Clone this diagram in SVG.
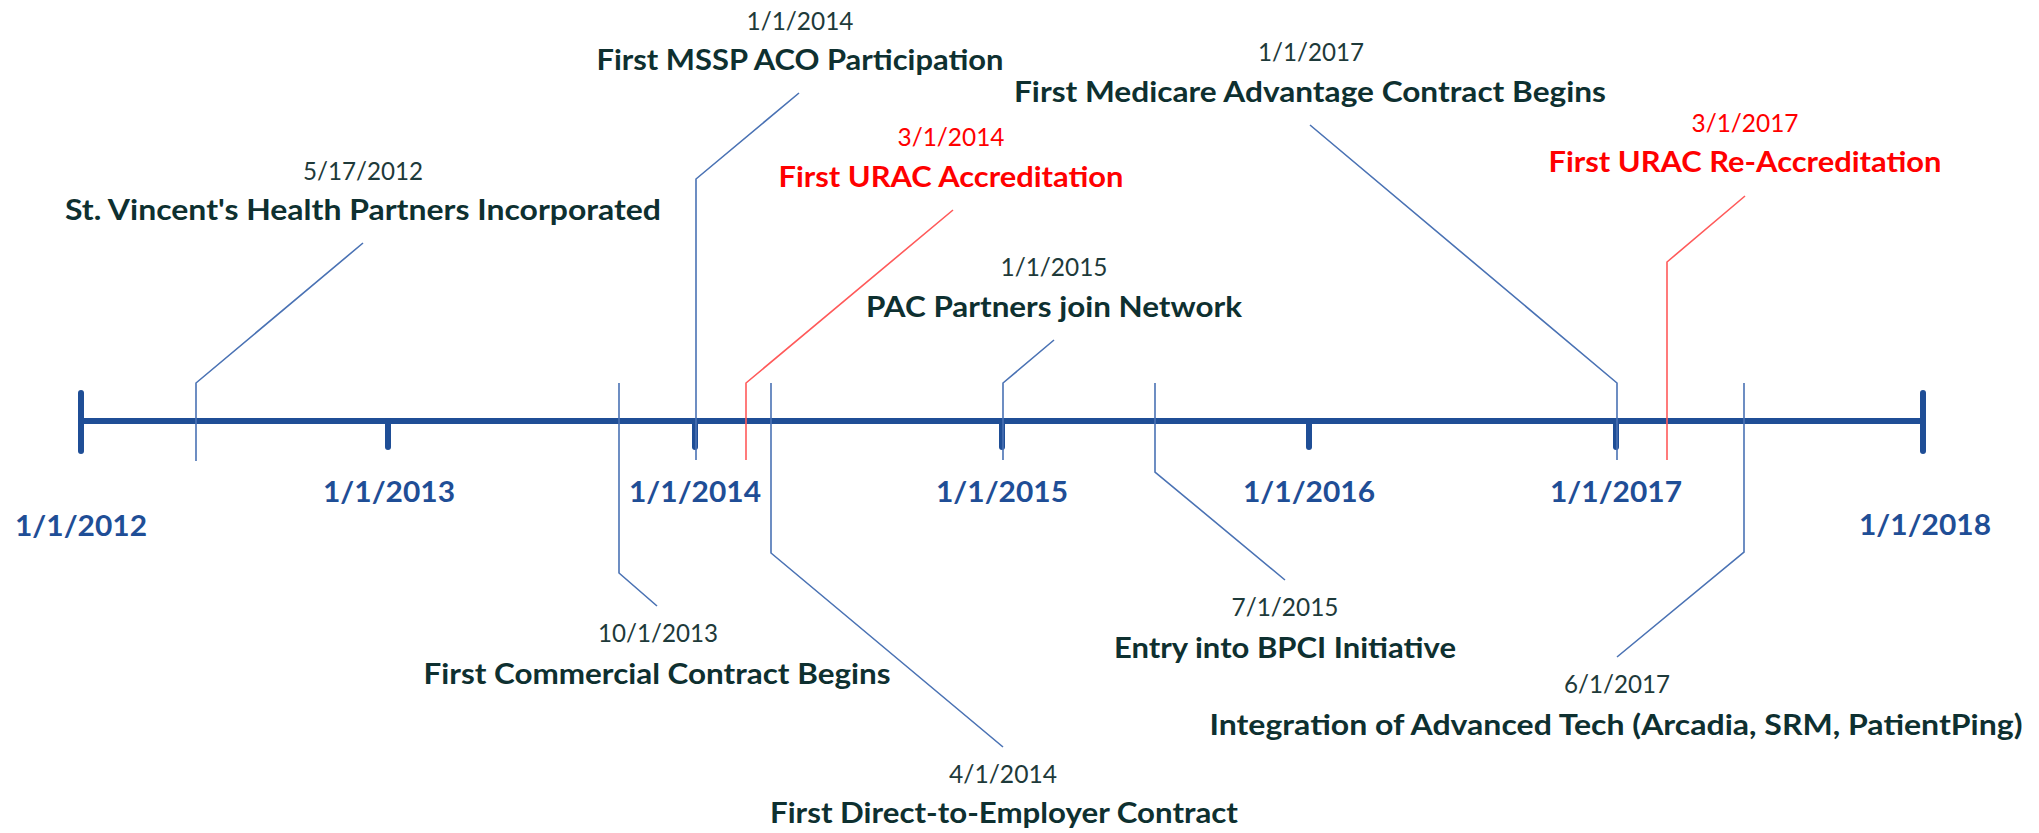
<svg xmlns="http://www.w3.org/2000/svg" width="2039" height="833" viewBox="0 0 2039 833">
<style>
.date{font-family:Lato,"Liberation Sans",sans-serif;font-size:25px;font-weight:400;fill:#1e3a3a;text-anchor:middle}
.title{font-family:Lato,"Liberation Sans",sans-serif;font-size:28px;font-weight:700;fill:#0e3030;text-anchor:middle}
.red{fill:#ff0000}
.year{font-family:Lato,"Liberation Sans",sans-serif;font-size:29px;font-weight:700;fill:#1f4e96;text-anchor:middle}
.conn{fill:none;stroke:#4a72b4;stroke-width:1.6}
.conn.r{stroke:#ff5a5a}
.ax{stroke:#1f4e96;stroke-width:6;stroke-linecap:round;fill:none}
</style>
<rect width="2039" height="833" fill="#ffffff"/>
<g id="axis">
<line class="ax" x1="81" y1="421" x2="1923" y2="421" style="stroke-linecap:butt"/>
<line class="ax" x1="81" y1="393" x2="81" y2="451"/>
<line class="ax" x1="1923" y1="393" x2="1923" y2="451"/>
<line class="ax" x1="388" y1="421" x2="388" y2="447"/>
<line class="ax" x1="695" y1="421" x2="695" y2="447"/>
<line class="ax" x1="1002" y1="421" x2="1002" y2="447"/>
<line class="ax" x1="1309" y1="421" x2="1309" y2="447"/>
<line class="ax" x1="1616" y1="421" x2="1616" y2="447"/>
<text class="year" x="81" y="536" textLength="132" lengthAdjust="spacingAndGlyphs">1/1/2012</text>
<text class="year" x="389" y="502" textLength="132" lengthAdjust="spacingAndGlyphs">1/1/2013</text>
<text class="year" x="695" y="502" textLength="132" lengthAdjust="spacingAndGlyphs">1/1/2014</text>
<text class="year" x="1002" y="502" textLength="132" lengthAdjust="spacingAndGlyphs">1/1/2015</text>
<text class="year" x="1309" y="502" textLength="132" lengthAdjust="spacingAndGlyphs">1/1/2016</text>
<text class="year" x="1616" y="502" textLength="132" lengthAdjust="spacingAndGlyphs">1/1/2017</text>
<text class="year" x="1925" y="535" textLength="132" lengthAdjust="spacingAndGlyphs">1/1/2018</text>
</g>
<g id="connectors">
<path class="conn" d="M363,243 L196,383 L196,461"/>
<path class="conn" d="M799,93 L696,179 L696,460"/>
<path class="conn r" d="M953,210 L746,383 L746,460"/>
<path class="conn" d="M1054,340 L1003,383 L1003,460"/>
<path class="conn" d="M1310,125 L1617,383 L1617,460"/>
<path class="conn r" d="M1745,196 L1667,262 L1667,460"/>
<path class="conn" d="M619,383 L619,573 L657,606"/>
<path class="conn" d="M771,383 L771,553 L1003,747"/>
<path class="conn" d="M1155,383 L1155,472 L1285,580"/>
<path class="conn" d="M1744,383 L1744,552 L1617,657"/>
</g>
<g id="ev-incorporated">
<text class="date" x="363" y="180" textLength="120" lengthAdjust="spacingAndGlyphs">5/17/2012</text>
<text class="title" x="363" y="220" textLength="596" lengthAdjust="spacingAndGlyphs">St. Vincent's Health Partners Incorporated</text>
</g>
<g id="ev-mssp">
<text class="date" x="800" y="30" textLength="107" lengthAdjust="spacingAndGlyphs">1/1/2014</text>
<text class="title" x="800" y="70" textLength="407" lengthAdjust="spacingAndGlyphs">First MSSP ACO Participation</text>
</g>
<g id="ev-urac">
<text class="date red" x="951" y="146" textLength="107" lengthAdjust="spacingAndGlyphs">3/1/2014</text>
<text class="title red" x="951" y="187" textLength="345" lengthAdjust="spacingAndGlyphs">First URAC Accreditation</text>
</g>
<g id="ev-pac">
<text class="date" x="1054" y="276" textLength="107" lengthAdjust="spacingAndGlyphs">1/1/2015</text>
<text class="title" x="1054" y="317" textLength="376" lengthAdjust="spacingAndGlyphs">PAC Partners join Network</text>
</g>
<g id="ev-medicare">
<text class="date" x="1311" y="61" textLength="106" lengthAdjust="spacingAndGlyphs">1/1/2017</text>
<text class="title" x="1310" y="102" textLength="592" lengthAdjust="spacingAndGlyphs">First Medicare Advantage Contract Begins</text>
</g>
<g id="ev-urac-re">
<text class="date red" x="1745" y="132" textLength="107" lengthAdjust="spacingAndGlyphs">3/1/2017</text>
<text class="title red" x="1745" y="172" textLength="393" lengthAdjust="spacingAndGlyphs">First URAC Re-Accreditation</text>
</g>
<g id="ev-commercial">
<text class="date" x="658" y="642" textLength="120" lengthAdjust="spacingAndGlyphs">10/1/2013</text>
<text class="title" x="657" y="684" textLength="467" lengthAdjust="spacingAndGlyphs">First Commercial Contract Begins</text>
</g>
<g id="ev-direct">
<text class="date" x="1003" y="783" textLength="108" lengthAdjust="spacingAndGlyphs">4/1/2014</text>
<text class="title" x="1004" y="823" textLength="468" lengthAdjust="spacingAndGlyphs">First Direct-to-Employer Contract</text>
</g>
<g id="ev-bpci">
<text class="date" x="1285" y="616" textLength="107" lengthAdjust="spacingAndGlyphs">7/1/2015</text>
<text class="title" x="1285" y="658" textLength="342" lengthAdjust="spacingAndGlyphs">Entry into BPCI Initiative</text>
</g>
<g id="ev-tech">
<text class="date" x="1617" y="693" textLength="106" lengthAdjust="spacingAndGlyphs">6/1/2017</text>
<text class="title" x="1616" y="735" textLength="813" lengthAdjust="spacingAndGlyphs">Integration of Advanced Tech (Arcadia, SRM, PatientPing)</text>
</g>
</svg>
